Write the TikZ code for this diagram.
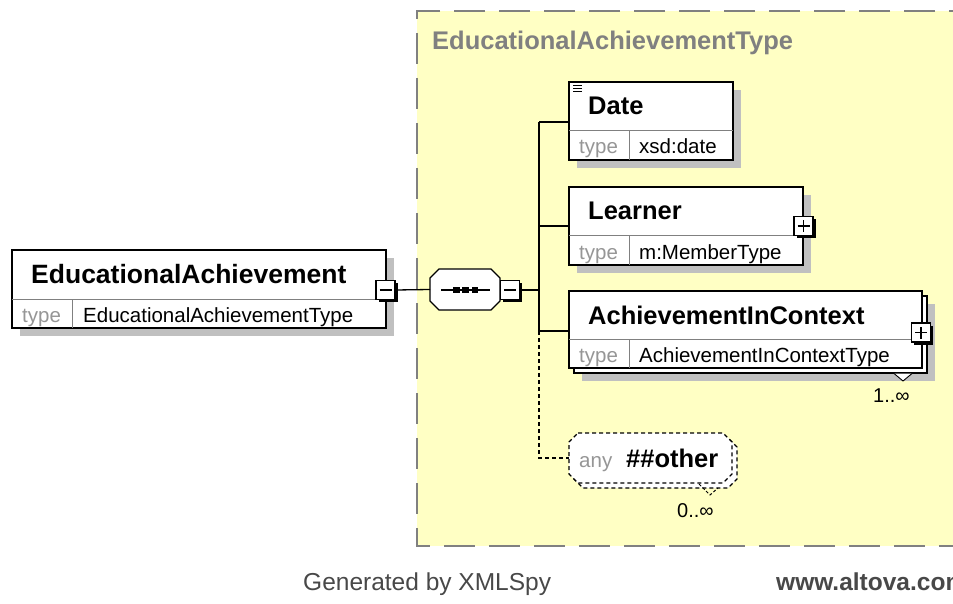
\documentclass[tikz,border=0pt]{standalone}
\usepackage{fontspec}
\setmainfont{Liberation Sans}
\usetikzlibrary{shadows}
\definecolor{yellowbg}{RGB}{255,255,196}
\definecolor{dashgray}{RGB}{128,128,128}
\definecolor{shadowgray}{RGB}{192,192,192}
\definecolor{typegray}{RGB}{150,150,150}
\definecolor{divgray}{RGB}{128,128,128}
\definecolor{footgray}{RGB}{72,72,72}
\newcommand\octpath[3]{%
 \path[#3] ([xshift=#2pt]#1.north west) -- ([xshift=-#2pt]#1.north east) -- ([yshift=-#2pt]#1.north east) -- ([yshift=#2pt]#1.south east) -- ([xshift=-#2pt]#1.south east) -- ([xshift=#2pt]#1.south west) -- ([yshift=#2pt]#1.south west) -- ([yshift=-#2pt]#1.north west) -- cycle;}
\begin{document}
\begin{tikzpicture}[x=1pt,y=-1pt,
 elem/.style={draw=black, line width=1.4pt, fill=white, rectangle, inner sep=0pt, outer sep=0pt, anchor=north west},
 shad/.style={drop shadow={shadow xshift=8pt, shadow yshift=-8pt, fill=shadowgray, opacity=1}},
 frame/.style={draw=none, rectangle, inner sep=0pt, outer sep=0pt},
 div/.style={draw=divgray, line width=1pt},
 nm/.style={font=\bfseries\fontsize{25.5}{30}\selectfont, inner sep=0pt, anchor=base west},
 tl/.style={font=\fontsize{20.5}{24}\selectfont, text=typegray, inner sep=0pt, anchor=base west},
 tv/.style={font=\fontsize{20.5}{24}\selectfont, inner sep=0pt, anchor=base west},
 pmbox/.style={draw=black, line width=1.4pt, fill=white, minimum size=19pt, inner sep=0pt, drop shadow={shadow xshift=2.5pt, shadow yshift=-2.5pt, fill=black, opacity=1}},
 sign/.style={draw=black, line width=1.4pt},
 conn/.style={draw=black, line width=1.3pt},
 dconn/.style={draw=black, line width=1.3pt, dash pattern=on 4pt off 3pt},
 mult/.style={font=\fontsize{20}{24}\selectfont, inner sep=0pt, anchor=base west},
 foot/.style={font=\fontsize{24.5}{28}\selectfont, text=footgray, inner sep=0pt, anchor=base west},
]
\path[use as bounding box] (0,0) rectangle (953,604);
% complex type area
\fill[yellowbg] (417,11) rectangle (980,546);
\draw[dashgray, line width=1.6pt, dash pattern=on 31pt off 14pt] (980,11) -- (417,11) -- (417,546) -- (980,546);
\node[font=\bfseries\fontsize{25.5}{30}\selectfont, text=dashgray, inner sep=0pt, anchor=base west] (ttl) at (432,50) {EducationalAchievementType};

% main element
\node[elem, shad, minimum width=374pt, minimum height=78pt] (ea) at (12,250) {};
\draw[div] (12,299) -- (386,299);
\draw[div] (72,299) -- (72,328);
\node[nm, font=\bfseries\fontsize{26.5}{30}\selectfont] (ean) at (31,283) {EducationalAchievement};
\node[tl] (eat) at (22,322) {type};
\node[tv] (eav) at (83,322) {EducationalAchievementType};
\node[pmbox] (eam) at (385.5,290) {};
\draw[sign] ([xshift=-6pt]eam.center) -- ([xshift=6pt]eam.center);

% sequence compositor
\node[frame, minimum width=70pt, minimum height=41pt] (seq) at (465,289.5) {};
\octpath{seq}{9}{fill=shadowgray, shift={(8,8)}}
\octpath{seq}{9}{draw=black, line width=1.3pt, fill=white}
\draw[line width=1.3pt] (441,290) -- (490,290);
\foreach \sx in {456.5,465.5,475} { \fill (\sx-3.3,290-3.3) rectangle (\sx+3.3,290+3.3); }
\node[pmbox] (seqm) at (510,290) {};
\draw[sign] ([xshift=-6pt]seqm.center) -- ([xshift=6pt]seqm.center);
\draw[conn] (eam.east) -- (seq.west);

% bus
\coordinate (bDate) at (539,122);
\coordinate (bSeq) at (539,290);
\coordinate (bLearner) at (539,226);
\coordinate (bAic) at (539,331);
\coordinate (bAny) at (539,458);
\draw[conn] (seqm.east) -- (bSeq);
\draw[conn] (bDate) -- (bAic);

% Date
\node[elem, shad, minimum width=164pt, minimum height=78pt] (date) at (569,82) {};
\draw[div] (569,131) -- (733,131);
\draw[div] (629,131) -- (629,160);
\draw[line width=1.2pt] (573,85.5) -- (582,85.5) (573,88.5) -- (582,88.5) (573,91.5) -- (582,91.5);
\node[nm] (daten) at (588,115) {Date};
\node[tl] (datet) at (579,154) {type};
\node[tv] (datev) at (639,154) {xsd:date};
\draw[conn] (bDate) -- (bDate -| date.west);

% Learner
\node[elem, shad, minimum width=234pt, minimum height=78pt] (lrn) at (569,187) {};
\draw[div] (569,236) -- (803,236);
\draw[div] (629,236) -- (629,265);
\node[nm] (lrnn) at (588,220) {Learner};
\node[tl] (lrnt) at (579,259) {type};
\node[tv] (lrnv) at (639,259) {m:MemberType};
\node[pmbox] (lrnp) at (803.5,226) {};
\draw[sign] ([xshift=-6pt]lrnp.center) -- ([xshift=6pt]lrnp.center) ([yshift=-6pt]lrnp.center) -- ([yshift=6pt]lrnp.center);
\draw[conn] (bLearner) -- (bLearner -| lrn.west);

% AchievementInContext (stacked)
\node[elem, shad, minimum width=353pt, minimum height=77pt] (aicb) at (574,296) {};
\node[elem, minimum width=353pt, minimum height=77pt] (aic) at (569,291) {};
\draw[div] (569,339) -- (922,339);
\draw[div] (629,339) -- (629,368);
\node[nm] (aicn) at (588,324) {AchievementInContext};
\node[tl] (aict) at (579,362) {type};
\node[tv] (aicv) at (639,362) {AchievementInContextType};
\node[pmbox] (aicp) at (921,332.5) {};
\draw[sign] ([xshift=-6pt]aicp.center) -- ([xshift=6pt]aicp.center) ([yshift=-6pt]aicp.center) -- ([yshift=6pt]aicp.center);
\draw[fill=white, line width=0.9pt] (894,373.5) -- (903,381) -- (912,373.5);
\node[mult] (aicm) at (873,402) {1..∞};
\draw[conn] (bAic) -- (bAic -| aic.west);

% any ##other
\node[frame, minimum width=163pt, minimum height=50pt] (anyb) at (655.5,463) {};
\node[frame, minimum width=163pt, minimum height=50pt] (any) at (650.5,458) {};
\octpath{anyb}{9}{fill=shadowgray, shift={(8,8)}}
\octpath{anyb}{9}{draw=black, line width=1.2pt, dash pattern=on 4pt off 3pt, fill=white}
\octpath{any}{9}{draw=black, line width=1.2pt, dash pattern=on 4pt off 3pt, fill=white}
\node[tl] (anyt) at (579,467) {any};
\node[nm] (anyn) at (626,467) {\#\#other};
\draw[line width=1pt, dash pattern=on 3pt off 2pt] (699,484) -- (710,495) -- (718,488);
\node[mult] (anym) at (677,517) {0..∞};
\draw[dconn] (bAic) -- (bAny) -- (any.west);

% footer
\node[foot] (gen) at (303,590) {Generated by XMLSpy};
\node[foot, font=\bfseries\fontsize{24.5}{28}\selectfont] (url) at (776,590) {www.altova.com};
\end{tikzpicture}
\end{document}
